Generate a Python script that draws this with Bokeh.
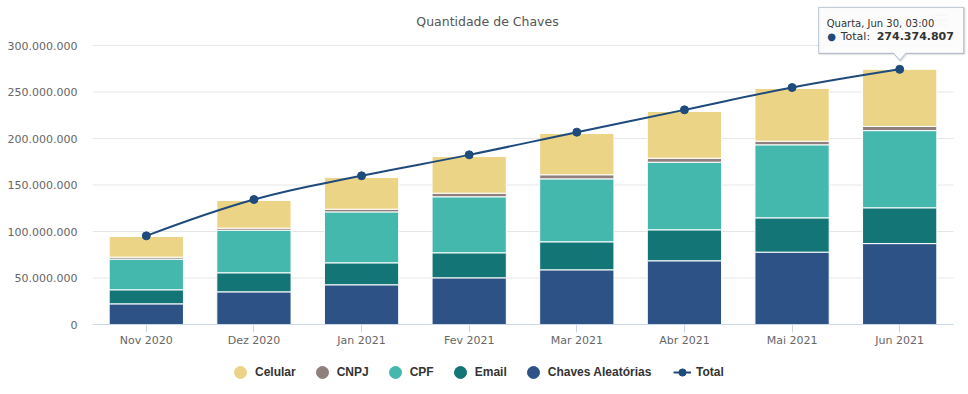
from bokeh.plotting import figure
from bokeh.models import (ColumnDataSource, Range1d, FixedTicker,
                          Legend, LegendItem, Label, PolyAnnotation)
from bokeh.embed import file_html
from bokeh.resources import INLINE

# ---------------- data ----------------
months = ["Nov 2020", "Dez 2020", "Jan 2021", "Fev 2021",
          "Mar 2021", "Abr 2021", "Mai 2021", "Jun 2021"]

# stacked series (millions of keys)
chaves_aleatorias = [22.2, 35.1, 42.7, 50.2, 58.8, 68.5, 77.8, 87.0]
email = [15.1, 20.5, 23.6, 26.9, 30.1, 33.3, 36.9, 38.5]
cpf = [33.0, 45.8, 54.8, 60.2, 67.7, 72.7, 78.5, 83.0]
cnpj = [2.1, 2.2, 2.9, 3.9, 4.4, 4.3, 3.9, 4.5]
celular = [22.2, 29.7, 34.0, 39.4, 44.4, 50.2, 56.7, 61.4]

total = [95.3e6, 134.4e6, 159.9e6, 182.4e6, 206.8e6, 230.8e6, 254.8e6, 274374807]

series_names = ["Celular", "CNPJ", "CPF", "Email", "Chaves Aleatórias"]
series_colors = ["#ebd486", "#8f807d", "#45b8ad", "#137576", "#2d5386"]
total_name = "Total"
total_color = "#1f4a7c"

y_ticks = [0, 50e6, 100e6, 150e6, 200e6, 250e6, 300e6]
y_tick_labels = ["0", "50.000.000", "100.000.000", "150.000.000",
                 "200.000.000", "250.000.000", "300.000.000"]

chart_subtitle = "Quantidade de Chaves"
tooltip_header = "Quarta, Jun 30, 03:00"

# ---------------- layout constants (page pixels) ----------------
W, H = 966, 392
FRAME_LEFT = 92            # plot area left edge
PLOT_RIGHT = 953           # category band right edge
ZERO_Y = 324               # pixel row of value 0
PX_PER_VAL = 279.0 / 300e6
PX_PER_CAT = (PLOT_RIGHT - FRAME_LEFT) / len(months)

FONT = "DejaVu Sans"
NAN = float("nan")

xpos = [i + 0.5 for i in range(len(months))]

src = ColumnDataSource(dict(
    x=xpos,
    chaves=[v * 1e6 for v in chaves_aleatorias],
    email=[v * 1e6 for v in email],
    cpf=[v * 1e6 for v in cpf],
    cnpj=[v * 1e6 for v in cnpj],
    celular=[v * 1e6 for v in celular],
))

p = figure(width=W, height=H,
           x_range=Range1d(0, (W - FRAME_LEFT) / PX_PER_CAT),
           y_range=Range1d(-(H - ZERO_Y) / PX_PER_VAL, ZERO_Y / PX_PER_VAL),
           output_backend="svg", toolbar_location=None,
           min_border_left=FRAME_LEFT, min_border_right=0,
           min_border_top=0, min_border_bottom=0,
           outline_line_color=None, background_fill_color="white",
           border_fill_color="white")

# horizontal grid lines across the category band only
p.segment(x0=0, x1=len(months), y0=y_ticks, y1=y_ticks,
          line_color="#e6e6e6", line_width=1)

stack_keys = ["chaves", "email", "cpf", "cnpj", "celular"]
stack_colors = [series_colors[4], series_colors[3], series_colors[2],
                series_colors[1], series_colors[0]]
p.vbar_stack(stack_keys, x="x", width=0.69, color=stack_colors,
             line_color="white", line_width=1, source=src)


# ---- Total as a smooth spline (Highcharts-style control points) ----
def spline_controls(xs, ys, smoothing=1.5):
    n = len(xs)
    left = [(xs[i], ys[i]) for i in range(n)]
    right = [(xs[i], ys[i]) for i in range(n)]
    denom = smoothing + 1
    for i in range(1, n - 1):
        lx, ly = xs[i - 1], ys[i - 1]
        nx, ny = xs[i + 1], ys[i + 1]
        px, py = xs[i], ys[i]
        lcx = (smoothing * px + lx) / denom
        lcy = (smoothing * py + ly) / denom
        rcx = (smoothing * px + nx) / denom
        rcy = (smoothing * py + ny) / denom
        if rcx != lcx:
            corr = ((rcy - lcy) * (rcx - px)) / (rcx - lcx) + py - rcy
            lcy += corr
            rcy += corr
        if lcy > ly and lcy > py:
            lcy = max(ly, py)
            rcy = 2 * py - lcy
        elif lcy < ly and lcy < py:
            lcy = min(ly, py)
            rcy = 2 * py - lcy
        if rcy > ny and rcy > py:
            rcy = max(ny, py)
            lcy = 2 * py - rcy
        elif rcy < ny and rcy < py:
            rcy = min(ny, py)
            lcy = 2 * py - rcy
        left[i] = (lcx, lcy)
        right[i] = (rcx, rcy)
    return left, right


lc, rc = spline_controls(xpos, total)
seg = range(1, len(xpos))
p.bezier(x0=[xpos[i - 1] for i in seg], y0=[total[i - 1] for i in seg],
         x1=[xpos[i] for i in seg], y1=[total[i] for i in seg],
         cx0=[rc[i - 1][0] for i in seg], cy0=[rc[i - 1][1] for i in seg],
         cx1=[lc[i][0] for i in seg], cy1=[lc[i][1] for i in seg],
         line_color=total_color, line_width=2)
dot_r = p.scatter(x=xpos, y=total, size=8, fill_color=total_color,
                  line_color=total_color)

# ---------------- axes ----------------
p.xgrid.grid_line_color = None
p.ygrid.grid_line_color = None

yax = p.yaxis[0]
yax.ticker = FixedTicker(ticks=y_ticks)
yax.major_label_overrides = {t: l for t, l in zip(y_ticks, y_tick_labels)}
yax.axis_line_color = None
yax.major_tick_line_color = None
yax.minor_tick_line_color = None
yax.major_tick_out = 0
yax.major_tick_in = 0
yax.major_label_standoff = 15
yax.major_label_text_font = FONT
yax.major_label_text_font_size = "11px"
yax.major_label_text_color = "#666666"

xax = p.xaxis[0]
xax.fixed_location = 0
xax.bounds = (0, len(months))
xax.ticker = FixedTicker(ticks=xpos, minor_ticks=[])
xax.major_label_overrides = {x: m for x, m in zip(xpos, months)}
xax.axis_line_color = "#ccd6eb"
xax.major_tick_line_color = "#ccd6eb"
xax.major_tick_out = 8
xax.major_tick_in = 0
xax.minor_tick_line_color = None
xax.major_label_standoff = 1
xax.major_label_text_font = FONT
xax.major_label_text_font_size = "11px"
xax.major_label_text_color = "#666666"


def sx(px):
    """page-x pixel -> data x"""
    return (px - FRAME_LEFT) / PX_PER_CAT


def vy(py):
    """page-y pixel -> data value"""
    return (ZERO_Y - py) / PX_PER_VAL


# subtitle
p.add_layout(Label(x=sx(487), y=vy(21), text=chart_subtitle,
                   text_align="center", text_baseline="middle",
                   text_font=FONT, text_font_size="12.5px",
                   text_color="#555555"))

# context-menu icon (partly behind the tooltip)
p.add_layout(Label(x=sx(941), y=vy(20), text="\u2630",
                   text_align="center", text_baseline="middle",
                   text_font=FONT, text_font_size="16px",
                   text_color="#dcdcdc"))

# ---------------- tooltip (anchored on last Total point) ----------------
ax = xpos[-1]
ay = total[-1]


def tx(dpx):
    return ax + dpx / PX_PER_CAT


def ty(dpx):
    return ay + dpx / PX_PER_VAL


shape = [(-81, 16), (-81, 62), (64, 62), (64, 16), (6, 16), (0, 9), (-6, 16)]
shadow = [(a + 1, b - 1) for a, b in shape]
p.add_layout(PolyAnnotation(xs=[tx(a) for a, b in shadow],
                            ys=[ty(b) for a, b in shadow],
                            fill_color="black", fill_alpha=0.08,
                            line_color="black", line_alpha=0.08, line_width=2))
p.add_layout(PolyAnnotation(xs=[tx(a) for a, b in shape],
                            ys=[ty(b) for a, b in shape],
                            fill_color="white", fill_alpha=0.85,
                            line_color=total_color, line_width=1))
p.add_layout(Label(x=tx(-73), y=ty(46), text=tooltip_header,
                   text_align="left", text_baseline="middle",
                   text_font=FONT, text_font_size="10px", text_color="#333333"))
p.add_layout(Label(x=tx(-68), y=ty(33), text="\u25cf",
                   text_align="center", text_baseline="middle",
                   text_font=FONT, text_font_size="10px", text_color=total_color))
p.add_layout(Label(x=tx(-59), y=ty(33), text=total_name + ": ",
                   text_align="left", text_baseline="middle",
                   text_font=FONT, text_font_size="11px", text_color="#333333"))
p.add_layout(Label(x=tx(-23), y=ty(33), text=f"{total[-1]:,}".replace(",", "."),
                   text_align="left", text_baseline="middle",
                   text_font=FONT, text_font_size="11px", text_font_style="bold",
                   text_color="#333333"))

# ---------------- legends ----------------
items = []
for name, color in zip(series_names, series_colors):
    r = p.scatter(x=[NAN], y=[NAN], marker="circle", fill_color=color,
                  line_color=color)
    items.append(LegendItem(label=name, renderers=[r]))

common = dict(orientation="horizontal", padding=0, margin=0,
              border_line_color=None, background_fill_alpha=0,
              label_text_font="Liberation Sans", label_text_font_style="bold",
              label_text_font_size="12px", label_text_color="#333333",
              label_text_baseline="middle")

leg1 = Legend(items=items, location=(133, H - 386.5), glyph_width=30, glyph_height=30,
              label_height=30, label_standoff=0, spacing=11, **common)
p.add_layout(leg1, "center")

total_leg_line = p.line(x=[NAN], y=[NAN], line_color=total_color, line_width=2)
leg2 = Legend(items=[LegendItem(label=total_name, renderers=[total_leg_line, dot_r])],
              location=(581, H - 380.5), glyph_width=18, glyph_height=18,
              label_height=18, label_standoff=5, spacing=0, **common)
p.add_layout(leg2, "center")

open("out.html", "w").write(file_html(p, INLINE))
